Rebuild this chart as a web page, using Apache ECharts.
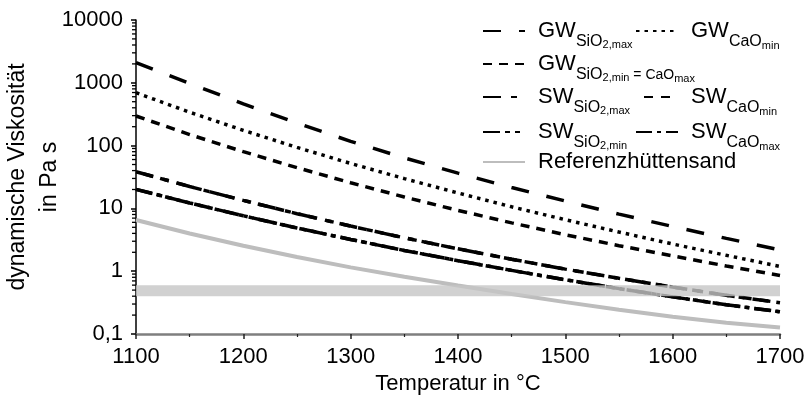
<!DOCTYPE html>
<html>
<head>
<meta charset="utf-8">
<script src="https://cdn.jsdelivr.net/npm/echarts@6/dist/echarts.min.js"></script>
<style>
  html, body { margin: 0; padding: 0; background: #fff; }
  #chart { width: 807px; height: 404px; }
</style>
</head>
<body>
<div id="chart"></div>
<script>
// ---- data ----
var temperatures = [1100, 1150, 1200, 1250, 1300, 1350, 1400, 1450, 1500, 1550, 1600, 1650, 1700];
var gwSiO2max       = [2100, 975, 463, 228, 117, 63.7, 36.4, 21.5, 13.1, 8.1, 5.15, 3.33, 2.18];
var gwCaOmin        = [695, 340, 175, 93.6, 52, 29.8, 17.6, 10.6, 6.6, 4.2, 2.71, 1.79, 1.19];
var gwSiO2minCaOmax = [296, 150, 80, 44.5, 25.6, 15.2, 9.3, 5.88, 3.81, 2.55, 1.75, 1.21, 0.855];
var swSiO2max       = [38.4, 22.3, 13.4, 8.24, 5.23, 3.40, 2.27, 1.55, 1.08, 0.77, 0.558, 0.413, 0.315];
var swCaOmin        = [38.4, 22.3, 13.4, 8.24, 5.23, 3.40, 2.27, 1.55, 1.08, 0.77, 0.558, 0.413, 0.315];
var swSiO2min       = [20.1, 12.2, 7.62, 4.87, 3.20, 2.14, 1.47, 1.03, 0.73, 0.528, 0.39, 0.292, 0.226];
var swCaOmax        = [20.1, 12.2, 7.62, 4.87, 3.20, 2.14, 1.47, 1.03, 0.73, 0.528, 0.39, 0.292, 0.226];
var referenz        = [6.53, 3.98, 2.54, 1.68, 1.15, 0.817, 0.590, 0.432, 0.322, 0.244, 0.188, 0.151, 0.127];
var bandRange = [0.4, 0.6];

var xTicks = [1100, 1200, 1300, 1400, 1500, 1600, 1700];
var yTickLabels = ['0,1', '1', '10', '100', '1000', '10000'];
var yMinorTicks = [0.2, 0.3, 0.4, 0.5, 0.6, 0.7, 0.8, 0.9,
                   2, 3, 4, 5, 6, 7, 8, 9,
                   20, 30, 40, 50, 60, 70, 80, 90,
                   200, 300, 400, 500, 600, 700, 800, 900,
                   2000, 3000, 4000, 5000, 6000, 7000, 8000, 9000];

var seriesNames = ['GW_SiO2max', 'GW_CaOmin', 'GW_SiO2minCaOmax', 'SW_SiO2max', 'SW_CaOmin', 'SW_SiO2min', 'SW_CaOmax', 'Referenzhüttensand'];
var legendLabels = {
  'GW_SiO2max':       '{g|GW}{s|SiO}{ss|2,max}',
  'GW_CaOmin':        '{g|GW}{s|CaO}{ms|min}',
  'GW_SiO2minCaOmax': '{g|GW}{s|SiO}{ss|2,min}{s2| = CaO}{ms|max}',
  'SW_SiO2max':       '{g|SW}{s|SiO}{ss|2,max}',
  'SW_CaOmin':        '{g|SW}{s|CaO}{ms|min}',
  'SW_SiO2min':       '{g|SW}{s|SiO}{ss|2,min}',
  'SW_CaOmax':        '{g|SW}{s|CaO}{ms|max}',
  'Referenzhüttensand': '{g|Referenzhüttensand}'
};

// ---- styles ----
var FONT = '"Liberation Sans", Arial, Helvetica, sans-serif';
var dashes = {
  'GW_SiO2max': [18, 18],
  'GW_CaOmin': [3.5, 5],
  'GW_SiO2minCaOmax': [9, 7],
  'SW_SiO2max': [18, 10, 6, 8],
  'SW_CaOmin': [9, 8],
  'SW_SiO2min': [17, 5, 5, 5, 5, 5],
  'SW_CaOmax': [16, 5, 4, 5],
  'Referenzhüttensand': 'solid'
};
var dashOffsets = { 'SW_CaOmin': 9 };
var seriesData = {
  'GW_SiO2max': gwSiO2max, 'GW_CaOmin': gwCaOmin, 'GW_SiO2minCaOmax': gwSiO2minCaOmax,
  'SW_SiO2max': swSiO2max, 'SW_CaOmin': swCaOmin, 'SW_SiO2min': swSiO2min,
  'SW_CaOmax': swCaOmax, 'Referenzhüttensand': referenz
};
// legend positions [left, top]
var legendPos = {
  'GW_SiO2max': [482, 6],
  'GW_CaOmin': [635, 6],
  'GW_SiO2minCaOmax': [482, 39],
  'SW_SiO2max': [482, 72],
  'SW_CaOmin': [635, 72],
  'SW_SiO2min': [482, 107],
  'SW_CaOmax': [635, 107],
  'Referenzhüttensand': [482, 137]
};

// every token is vertically centred on the line; top padding pushes subscripts down by half of it
var rich = {
  g:   { fontSize: 22, fontFamily: FONT, color: '#000', lineHeight: 24, padding: [14, 0, 14, 8] },
  s:   { fontSize: 16, fontFamily: FONT, color: '#000', lineHeight: 18, padding: [22, 0, 0, 0] },
  s2:  { fontSize: 14, fontFamily: FONT, color: '#000', lineHeight: 16, padding: [23, 0, 0, 0] },
  ss:  { fontSize: 11, fontFamily: FONT, color: '#000', lineHeight: 12, padding: [28, 0, 0, 0] },
  ms:  { fontSize: 11, fontFamily: FONT, color: '#000', lineHeight: 12, padding: [30, 0, 0, 0] }
};

var series = seriesNames.map(function (name) {
  var isRef = name === 'Referenzhüttensand';
  return {
    name: name,
    type: 'line',
    symbol: 'none',
    silent: true,
    z: isRef ? 3 : 4,
    data: temperatures.map(function (t, i) { return [t, seriesData[name][i]]; }),
    lineStyle: {
      color: isRef ? '#bdbdbd' : '#000',
      width: isRef ? 4 : 3.5,
      type: dashes[name],
      dashOffset: dashOffsets[name] || 0,
      cap: 'butt'
    },
    itemStyle: { color: isRef ? '#bdbdbd' : '#000' }
  };
});
// reference band
series.push({
  name: 'band',
  type: 'line',
  symbol: 'none',
  silent: true,
  z: 10,
  data: [],
  markArea: {
    silent: true,
    z: 10,
    itemStyle: { color: 'rgba(198,198,198,0.8)' },
    data: [[{ yAxis: bandRange[0] }, { yAxis: bandRange[1] }]]
  }
});
// minor ticks of the log axis, placed by the axis scale at the left edge of the grid
series.push({
  name: 'minorTicks',
  type: 'scatter',
  silent: true,
  clip: false,
  z: 20,
  symbol: 'rect',
  symbolSize: [4, 1.3],
  symbolOffset: [-2, 0],
  itemStyle: { color: '#000', opacity: 1 },
  data: yMinorTicks.map(function (v) { return [xTicks[0], v]; })
});

var legends = seriesNames.map(function (name) {
  return {
    data: [name],
    left: legendPos[name][0],
    top: legendPos[name][1],
    padding: 0,
    itemWidth: 42,
    itemHeight: 14,
    selectedMode: false,
    itemStyle: { opacity: 0, color: 'rgba(0,0,0,0)', borderWidth: 0 },
    formatter: function (n) { return legendLabels[n]; },
    textStyle: { rich: rich, fontFamily: FONT, fontSize: 22, color: '#000' }
  };
});

var chart = echarts.init(document.getElementById('chart'), null, { renderer: 'canvas' });
chart.setOption({
  animation: false,
  backgroundColor: '#fff',
  textStyle: { fontFamily: FONT },
  grid: { left: 136, right: 27, top: 20, bottom: 70, containLabel: false, outerBoundsMode: 'none' },
  legend: legends,
  xAxis: {
    type: 'value',
    min: xTicks[0],
    max: xTicks[xTicks.length - 1],
    interval: 100,
    name: 'Temperatur in °C',
    nameLocation: 'middle',
    nameGap: 38,
    nameTextStyle: { fontSize: 22, color: '#000', fontFamily: FONT },
    axisLine: { show: true, onZero: false, lineStyle: { color: '#7f7f7f', width: 2.5 } },
    axisTick: { show: true, length: 5, inside: false, lineStyle: { color: '#222', width: 1.5 } },
    minorTick: { show: true, splitNumber: 2, length: 3, lineStyle: { color: '#222', width: 1.2 } },
    splitLine: { show: false },
    axisLabel: { fontSize: 22, color: '#000', margin: 12, fontFamily: FONT,
      formatter: function (v) { return String(v); } }
  },
  yAxis: {
    type: 'log',
    logBase: 10,
    min: 0.1,
    max: 10000,
    name: 'dynamische Viskosität\nin Pa s',
    nameLocation: 'middle',
    nameRotate: 90,
    nameGap: 70,
    nameMoveOverlap: false,
    nameTextStyle: { fontSize: 23, color: '#000', lineHeight: 32, fontFamily: FONT },
    axisLine: { show: true, lineStyle: { color: '#000', width: 1.5 } },
    axisTick: { show: true, length: 5, lineStyle: { color: '#000', width: 1.5 } },
    splitLine: { show: false },
    axisLabel: { fontSize: 22, color: '#000', margin: 13, fontFamily: FONT,
      formatter: function (v) {
        var idx = Math.round(Math.log10(v)) + 1;
        return yTickLabels[idx] !== undefined ? yTickLabels[idx] : String(v).replace('.', ',');
      } }
  },
  series: series
});
</script>
</body>
</html>
